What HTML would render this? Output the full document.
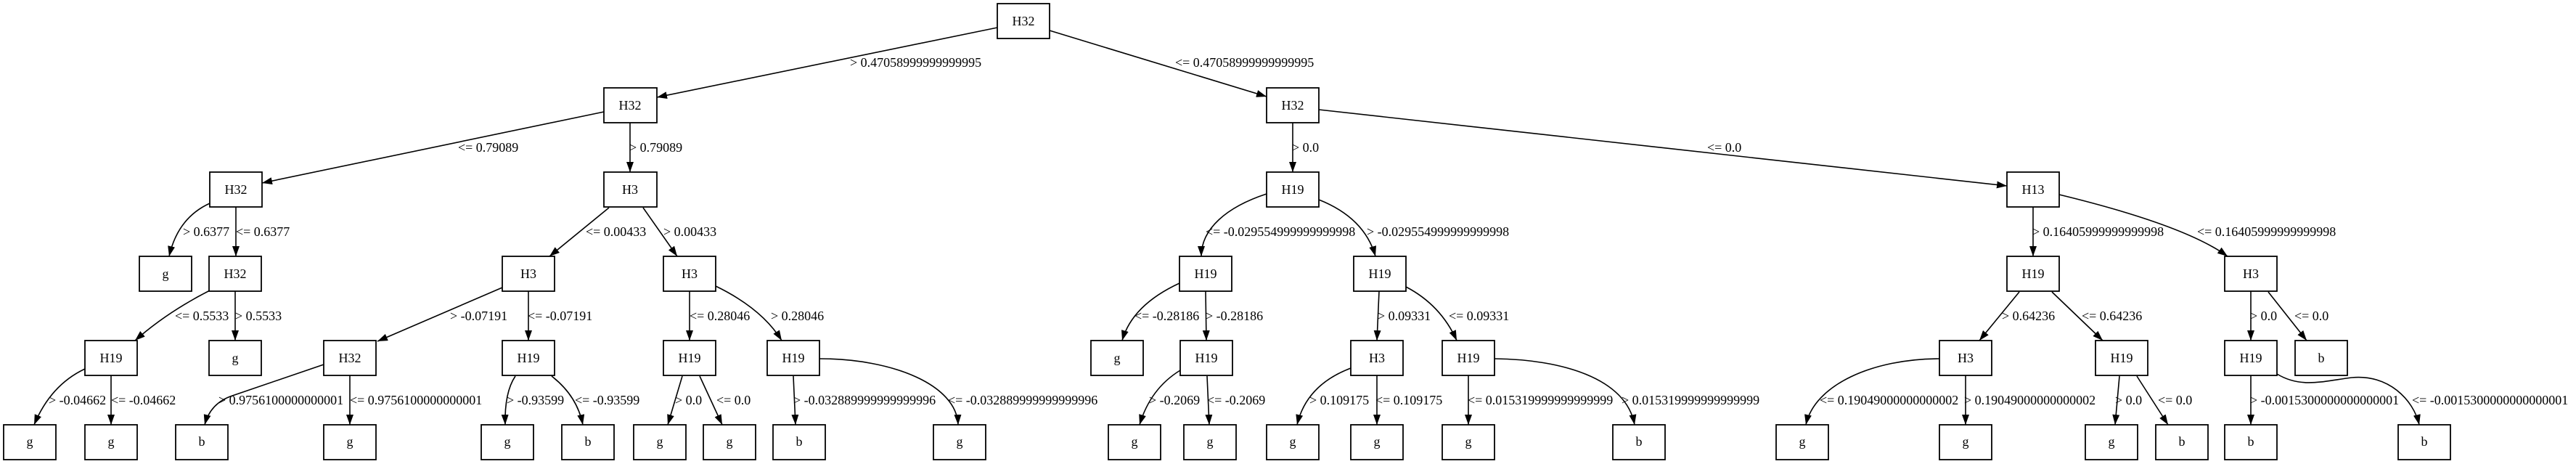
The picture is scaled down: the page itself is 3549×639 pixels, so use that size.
<!DOCTYPE html>
<html><head><meta charset="utf-8"><style>
html,body{margin:0;padding:0;background:#fff;}
svg{display:block;}
text{font-family:"Liberation Serif",serif;font-size:18px;fill:#000;}
.n{fill:#fff;stroke:#000;stroke-width:1.8;}
.e{fill:none;stroke:#000;stroke-width:1.6;marker-end:url(#a);}
.c{text-anchor:middle;}
</style></head><body>
<svg width="3549" height="639" viewBox="0 0 3549 639" xmlns="http://www.w3.org/2000/svg">
<defs><marker id="a" markerUnits="userSpaceOnUse" markerWidth="14" markerHeight="10" refX="14" refY="5" orient="auto"><path d="M0,0 L14,5 L0,10 z" fill="#000"/></marker></defs>
<g>
<path class="e" d="M1374,38 L905,134"/>
<path class="e" d="M1446,42 L1745,133"/>
<path class="e" d="M832,154 L361,252"/>
<path class="e" d="M868,169 L868,237"/>
<path class="e" d="M289,280 Q245,300 233,353"/>
<path class="e" d="M325,285 L325,353"/>
<path class="e" d="M289,400 Q230,430 186,469"/>
<path class="e" d="M324,401 L324,469"/>
<path class="e" d="M117,508 Q70,530 47,585"/>
<path class="e" d="M153,517 L153,585"/>
<path class="e" d="M839,286 L757,353"/>
<path class="e" d="M886,286 L933,353"/>
<path class="e" d="M692,396 L520,470"/>
<path class="e" d="M728,401 L728,469"/>
<path class="e" d="M950,401 L950,469"/>
<path class="e" d="M986,394 Q1050,425 1077,469"/>
<path class="e" d="M446,502 L320,545 Q290,555 282,585"/>
<path class="e" d="M482,517 L482,585"/>
<path class="e" d="M710,518 Q695,540 696,585"/>
<path class="e" d="M760,518 Q795,545 803,585"/>
<path class="e" d="M940,518 L920,585"/>
<path class="e" d="M964,518 L995,585"/>
<path class="e" d="M1093,518 L1096,585"/>
<path class="e" d="M1129,494 C1230,494 1318,530 1320,585"/>
<path class="e" d="M1781,169 L1781,237"/>
<path class="e" d="M1817,151 L2765,256"/>
<path class="e" d="M1745,267 C1690,285 1655,315 1655,353"/>
<path class="e" d="M1817,275 Q1880,300 1895,353"/>
<path class="e" d="M1625,390 Q1560,420 1546,469"/>
<path class="e" d="M1661,401 L1662,469"/>
<path class="e" d="M1900,401 L1897,469"/>
<path class="e" d="M1937,395 Q1985,420 2007,469"/>
<path class="e" d="M1626,510 Q1585,535 1570,585"/>
<path class="e" d="M1663,518 L1666,585"/>
<path class="e" d="M1861,507 Q1800,530 1787,585"/>
<path class="e" d="M1897,517 L1897,585"/>
<path class="e" d="M2023,517 L2023,585"/>
<path class="e" d="M2059,494 C2150,495 2240,520 2252,585"/>
<path class="e" d="M2801,285 L2801,353"/>
<path class="e" d="M2837,268 Q3010,310 3069,353"/>
<path class="e" d="M2782,402 L2727,469"/>
<path class="e" d="M2827,402 L2897,469"/>
<path class="e" d="M3101,401 L3101,469"/>
<path class="e" d="M3125,402 Q3155,440 3178,469"/>
<path class="e" d="M2672,494 C2580,494 2500,530 2488,585"/>
<path class="e" d="M2708,517 L2708,585"/>
<path class="e" d="M2920,518 L2914,585"/>
<path class="e" d="M2944,518 L2987,585"/>
<path class="e" d="M3101,517 L3101,585"/>
<path class="e" d="M3137,515 C3170,535 3200,525 3240,520 C3290,515 3325,550 3333,585"/>
</g>
<g>
<rect class="n" x="1374" y="5" width="72" height="48"/><text class="c" x="1410" y="35">H32</text>
<rect class="n" x="832" y="121" width="73" height="48"/><text class="c" x="868" y="151">H32</text>
<rect class="n" x="1745" y="121" width="72" height="48"/><text class="c" x="1781" y="151">H32</text>
<rect class="n" x="289" y="237" width="72" height="48"/><text class="c" x="325" y="267">H32</text>
<rect class="n" x="832" y="237" width="73" height="48"/><text class="c" x="868" y="267">H3</text>
<rect class="n" x="1745" y="237" width="72" height="48"/><text class="c" x="1781" y="267">H19</text>
<rect class="n" x="2765" y="237" width="72" height="48"/><text class="c" x="2801" y="267">H13</text>
<rect class="n" x="192" y="353" width="72" height="48"/><text class="c" x="228" y="383">g</text>
<rect class="n" x="288" y="353" width="72" height="48"/><text class="c" x="324" y="383">H32</text>
<rect class="n" x="692" y="353" width="72" height="48"/><text class="c" x="728" y="383">H3</text>
<rect class="n" x="914" y="353" width="72" height="48"/><text class="c" x="950" y="383">H3</text>
<rect class="n" x="1625" y="353" width="72" height="48"/><text class="c" x="1661" y="383">H19</text>
<rect class="n" x="1865" y="353" width="72" height="48"/><text class="c" x="1901" y="383">H19</text>
<rect class="n" x="2765" y="353" width="72" height="48"/><text class="c" x="2801" y="383">H19</text>
<rect class="n" x="3065" y="353" width="72" height="48"/><text class="c" x="3101" y="383">H3</text>
<rect class="n" x="117" y="469" width="72" height="48"/><text class="c" x="153" y="499">H19</text>
<rect class="n" x="288" y="469" width="72" height="48"/><text class="c" x="324" y="499">g</text>
<rect class="n" x="446" y="469" width="72" height="48"/><text class="c" x="482" y="499">H32</text>
<rect class="n" x="692" y="469" width="72" height="48"/><text class="c" x="728" y="499">H19</text>
<rect class="n" x="914" y="469" width="72" height="48"/><text class="c" x="950" y="499">H19</text>
<rect class="n" x="1057" y="469" width="72" height="48"/><text class="c" x="1093" y="499">H19</text>
<rect class="n" x="1503" y="469" width="72" height="48"/><text class="c" x="1539" y="499">g</text>
<rect class="n" x="1626" y="469" width="72" height="48"/><text class="c" x="1662" y="499">H19</text>
<rect class="n" x="1861" y="469" width="72" height="48"/><text class="c" x="1897" y="499">H3</text>
<rect class="n" x="1987" y="469" width="72" height="48"/><text class="c" x="2023" y="499">H19</text>
<rect class="n" x="2672" y="469" width="72" height="48"/><text class="c" x="2708" y="499">H3</text>
<rect class="n" x="2887" y="469" width="72" height="48"/><text class="c" x="2923" y="499">H19</text>
<rect class="n" x="3065" y="469" width="72" height="48"/><text class="c" x="3101" y="499">H19</text>
<rect class="n" x="3162" y="469" width="72" height="48"/><text class="c" x="3198" y="499">b</text>
<rect class="n" x="5" y="585" width="72" height="48"/><text class="c" x="41" y="614">g</text>
<rect class="n" x="117" y="585" width="72" height="48"/><text class="c" x="153" y="614">g</text>
<rect class="n" x="242" y="585" width="72" height="48"/><text class="c" x="278" y="614">b</text>
<rect class="n" x="446" y="585" width="72" height="48"/><text class="c" x="482" y="614">g</text>
<rect class="n" x="663" y="585" width="72" height="48"/><text class="c" x="699" y="614">g</text>
<rect class="n" x="774" y="585" width="72" height="48"/><text class="c" x="810" y="614">b</text>
<rect class="n" x="873" y="585" width="72" height="48"/><text class="c" x="909" y="614">g</text>
<rect class="n" x="969" y="585" width="72" height="48"/><text class="c" x="1005" y="614">g</text>
<rect class="n" x="1065" y="585" width="72" height="48"/><text class="c" x="1101" y="614">b</text>
<rect class="n" x="1286" y="585" width="72" height="48"/><text class="c" x="1322" y="614">g</text>
<rect class="n" x="1527" y="585" width="72" height="48"/><text class="c" x="1563" y="614">g</text>
<rect class="n" x="1631" y="585" width="72" height="48"/><text class="c" x="1667" y="614">g</text>
<rect class="n" x="1745" y="585" width="72" height="48"/><text class="c" x="1781" y="614">g</text>
<rect class="n" x="1861" y="585" width="72" height="48"/><text class="c" x="1897" y="614">g</text>
<rect class="n" x="1987" y="585" width="72" height="48"/><text class="c" x="2023" y="614">g</text>
<rect class="n" x="2222" y="585" width="72" height="48"/><text class="c" x="2258" y="614">b</text>
<rect class="n" x="2447" y="585" width="72" height="48"/><text class="c" x="2483" y="614">g</text>
<rect class="n" x="2672" y="585" width="72" height="48"/><text class="c" x="2708" y="614">g</text>
<rect class="n" x="2873" y="585" width="72" height="48"/><text class="c" x="2909" y="614">g</text>
<rect class="n" x="2970" y="585" width="72" height="48"/><text class="c" x="3006" y="614">b</text>
<rect class="n" x="3065" y="585" width="72" height="48"/><text class="c" x="3101" y="614">b</text>
<rect class="n" x="3304" y="585" width="72" height="48"/><text class="c" x="3340" y="614">b</text>
</g>
<g>
<text x="1171" y="92">&gt; 0.47058999999999995</text>
<text x="1619" y="92">&lt;= 0.47058999999999995</text>
<text x="631" y="209">&lt;= 0.79089</text>
<text x="867" y="209">&gt; 0.79089</text>
<text x="1780" y="209">&gt; 0.0</text>
<text x="2352" y="209">&lt;= 0.0</text>
<text x="252" y="325">&gt; 0.6377</text>
<text x="325" y="325">&lt;= 0.6377</text>
<text x="807" y="325">&lt;= 0.00433</text>
<text x="914" y="325">&gt; 0.00433</text>
<text x="1661" y="325">&lt;= -0.029554999999999998</text>
<text x="1883" y="325">&gt; -0.029554999999999998</text>
<text x="2800" y="325">&gt; 0.16405999999999998</text>
<text x="3027" y="325">&lt;= 0.16405999999999998</text>
<text x="241" y="441">&lt;= 0.5533</text>
<text x="324" y="441">&gt; 0.5533</text>
<text x="620" y="441">&gt; -0.07191</text>
<text x="727" y="441">&lt;= -0.07191</text>
<text x="950" y="441">&lt;= 0.28046</text>
<text x="1062" y="441">&gt; 0.28046</text>
<text x="1563" y="441">&lt;= -0.28186</text>
<text x="1661" y="441">&gt; -0.28186</text>
<text x="1898" y="441">&gt; 0.09331</text>
<text x="1996" y="441">&lt;= 0.09331</text>
<text x="2758" y="441">&gt; 0.64236</text>
<text x="2868" y="441">&lt;= 0.64236</text>
<text x="3100" y="441">&gt; 0.0</text>
<text x="3161" y="441">&lt;= 0.0</text>
<text x="67" y="557">&gt; -0.04662</text>
<text x="153" y="557">&lt;= -0.04662</text>
<text x="301" y="557">&gt; 0.9756100000000001</text>
<text x="482" y="557">&lt;= 0.9756100000000001</text>
<text x="698" y="557">&gt; -0.93599</text>
<text x="792" y="557">&lt;= -0.93599</text>
<text x="930" y="557">&gt; 0.0</text>
<text x="987" y="557">&lt;= 0.0</text>
<text x="1093" y="557">&gt; -0.032889999999999996</text>
<text x="1306" y="557">&lt;= -0.032889999999999996</text>
<text x="1583" y="557">&gt; -0.2069</text>
<text x="1663" y="557">&lt;= -0.2069</text>
<text x="1804" y="557">&gt; 0.109175</text>
<text x="1895" y="557">&lt;= 0.109175</text>
<text x="2022" y="557">&lt;= 0.015319999999999999</text>
<text x="2234" y="557">&gt; 0.015319999999999999</text>
<text x="2507" y="557">&lt;= 0.19049000000000002</text>
<text x="2706" y="557">&gt; 0.19049000000000002</text>
<text x="2914" y="557">&gt; 0.0</text>
<text x="2973" y="557">&lt;= 0.0</text>
<text x="3100" y="557">&gt; -0.0015300000000000001</text>
<text x="3323" y="557">&lt;= -0.0015300000000000001</text>
</g>
</svg>
</body></html>
